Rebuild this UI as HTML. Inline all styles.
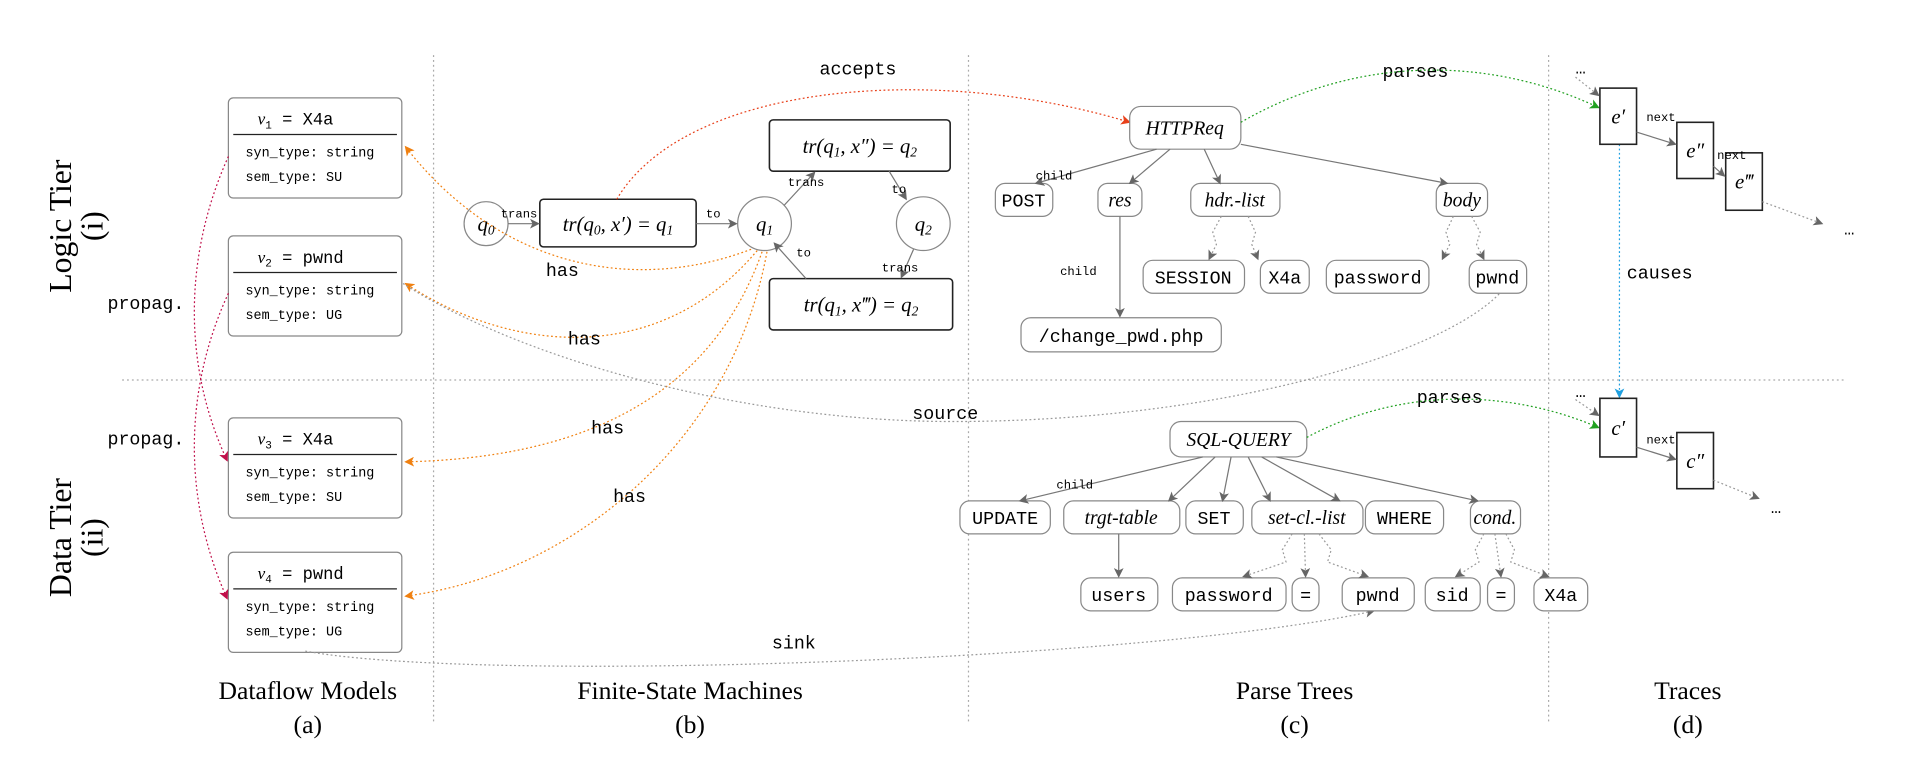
<!DOCTYPE html>
<html><head><meta charset="utf-8"><style>
html,body{margin:0;padding:0;background:#fff;}
svg{display:block}
.m{font-family:"Liberation Mono",monospace;}
.s{font-family:"Liberation Serif",serif;}
.i{font-family:"Liberation Serif",serif;font-style:italic;}
</style></head><body>
<svg width="1915" height="771" viewBox="0 0 1568 631" xmlns="http://www.w3.org/2000/svg">
<defs>
<marker id="ag" markerWidth="8" markerHeight="8" refX="7" refY="4" orient="auto" markerUnits="userSpaceOnUse"><path d="M0,0 L8,4 L0,8 L2,4z" fill="#666"/></marker>
<marker id="ao" markerWidth="8" markerHeight="8" refX="7" refY="4" orient="auto" markerUnits="userSpaceOnUse"><path d="M0,0 L8,4 L0,8 L2,4z" fill="#f08010"/></marker>
<marker id="ar" markerWidth="8" markerHeight="8" refX="7" refY="4" orient="auto" markerUnits="userSpaceOnUse"><path d="M0,0 L8,4 L0,8 L2,4z" fill="#e8401a"/></marker>
<marker id="ac" markerWidth="8" markerHeight="8" refX="7" refY="4" orient="auto" markerUnits="userSpaceOnUse"><path d="M0,0 L8,4 L0,8 L2,4z" fill="#c0104a"/></marker>
<marker id="agr" markerWidth="8" markerHeight="8" refX="7" refY="4" orient="auto" markerUnits="userSpaceOnUse"><path d="M0,0 L8,4 L0,8 L2,4z" fill="#20a020"/></marker>
<marker id="ab" markerWidth="8" markerHeight="8" refX="7" refY="4" orient="auto" markerUnits="userSpaceOnUse"><path d="M0,0 L8,4 L0,8 L2,4z" fill="#20a0e0"/></marker>
</defs>
<g stroke="#aaa" stroke-width="1" stroke-dasharray="1.5,2.5" fill="none">
<line x1="355" y1="45" x2="355" y2="592"/>
<line x1="793" y1="45" x2="793" y2="592"/>
<line x1="1268" y1="45" x2="1268" y2="592"/>
<line x1="100" y1="311" x2="1510" y2="311"/>
</g>
<g class="s" font-size="26" text-anchor="middle">
<text transform="translate(58,185) rotate(-90)">Logic Tier</text>
<text transform="translate(84,185) rotate(-90)">(i)</text>
<text transform="translate(58,440) rotate(-90)">Data Tier</text>
<text transform="translate(84,440) rotate(-90)">(ii)</text>
</g>
<g class="s" font-size="21" text-anchor="middle">
<text x="252" y="572">Dataflow Models</text><text x="252" y="600">(a)</text>
<text x="565" y="572">Finite-State Machines</text><text x="565" y="600">(b)</text>
<text x="1060" y="572">Parse Trees</text><text x="1060" y="600">(c)</text>
<text x="1382" y="572">Traces</text><text x="1382" y="600">(d)</text>
</g>
<g font-size="11" class="m">
<g transform="translate(187,80)"><rect width="142" height="82" rx="4" fill="#fff" stroke="#888"/><text x="24" y="22" font-size="14"><tspan class="i">v</tspan><tspan font-size="9" dy="3">1</tspan><tspan dy="-3"> = X4a</tspan></text><line x1="4" x2="138" y1="30" y2="30" stroke="#222"/><text x="14" y="48">syn_type: string</text><text x="14" y="68">sem_type: SU</text></g>
<g transform="translate(187,193)"><rect width="142" height="82" rx="4" fill="#fff" stroke="#888"/><text x="24" y="22" font-size="14"><tspan class="i">v</tspan><tspan font-size="9" dy="3">2</tspan><tspan dy="-3"> = pwnd</tspan></text><line x1="4" x2="138" y1="30" y2="30" stroke="#222"/><text x="14" y="48">syn_type: string</text><text x="14" y="68">sem_type: UG</text></g>
<g transform="translate(187,342)"><rect width="142" height="82" rx="4" fill="#fff" stroke="#888"/><text x="24" y="22" font-size="14"><tspan class="i">v</tspan><tspan font-size="9" dy="3">3</tspan><tspan dy="-3"> = X4a</tspan></text><line x1="4" x2="138" y1="30" y2="30" stroke="#222"/><text x="14" y="48">syn_type: string</text><text x="14" y="68">sem_type: SU</text></g>
<g transform="translate(187,452)"><rect width="142" height="82" rx="4" fill="#fff" stroke="#888"/><text x="24" y="22" font-size="14"><tspan class="i">v</tspan><tspan font-size="9" dy="3">4</tspan><tspan dy="-3"> = pwnd</tspan></text><line x1="4" x2="138" y1="30" y2="30" stroke="#222"/><text x="14" y="48">syn_type: string</text><text x="14" y="68">sem_type: UG</text></g>
</g>
<g class="m" font-size="15"><text x="88" y="253">propag.</text><text x="88" y="364">propag.</text></g>
<g stroke="#c0104a" stroke-dasharray="1.5,2" fill="none">
<path d="M187,128 C150,210 150,300 186,377" marker-end="url(#ac)"/>
<path d="M187,240 C150,320 150,410 186,490" marker-end="url(#ac)"/>
</g>
<g stroke="#888" fill="#fff"><circle cx="398" cy="183" r="18"/><circle cx="626" cy="183" r="22"/><circle cx="756" cy="183" r="22"/></g>
<g stroke="#222" fill="#fff" stroke-width="1.3">
<rect x="442" y="163" width="128" height="39" rx="3"/>
<rect x="630" y="98" width="148" height="42" rx="3"/>
<rect x="630" y="228" width="150" height="42" rx="3"/>
</g>
<g class="i" font-size="17" text-anchor="middle">
<text x="398" y="189">q<tspan font-size="11" dy="3">0</tspan></text>
<text x="626" y="189">q<tspan font-size="11" dy="3">1</tspan></text>
<text x="756" y="189">q<tspan font-size="11" dy="3">2</tspan></text>
<text x="506" y="189">tr(q<tspan font-size="11" dy="3">0</tspan><tspan dy="-3">, x′) = q</tspan><tspan font-size="11" dy="3">1</tspan></text>
<text x="704" y="125">tr(q<tspan font-size="11" dy="3">1</tspan><tspan dy="-3">, x″) = q</tspan><tspan font-size="11" dy="3">2</tspan></text>
<text x="705" y="255">tr(q<tspan font-size="11" dy="3">1</tspan><tspan dy="-3">, x‴) = q</tspan><tspan font-size="11" dy="3">2</tspan></text>
</g>
<g stroke="#777" fill="none" marker-end="url(#ag)">
<line x1="416" y1="183" x2="441" y2="183"/>
<line x1="570" y1="183" x2="603" y2="183"/>
<line x1="642" y1="168" x2="667" y2="141"/>
<line x1="728" y1="140" x2="742" y2="163"/>
<line x1="748" y1="204" x2="738" y2="227"/>
<line x1="660" y1="228" x2="634" y2="199"/>
</g>
<g class="m" font-size="10"><text x="410" y="178">trans</text><text x="578" y="178">to</text><text x="645" y="152">trans</text><text x="730" y="158">to</text><text x="722" y="222">trans</text><text x="652" y="210">to</text></g>
<g stroke="#f08010" stroke-dasharray="1.5,2" fill="none">
<path d="M615,204 C520,240 410,220 332,120" marker-end="url(#ao)"/>
<path d="M620,205 C540,300 420,290 332,232" marker-end="url(#ao)"/>
<path d="M624,206 C580,330 470,375 332,378" marker-end="url(#ao)"/>
<path d="M628,206 C600,360 470,470 332,488" marker-end="url(#ao)"/>
</g>
<g class="m" font-size="15"><text x="447" y="226">has</text><text x="465" y="282">has</text><text x="484" y="355">has</text><text x="502" y="411">has</text>
<text x="671" y="61">accepts</text><text x="1132" y="63">parses</text><text x="1160" y="330">parses</text><text x="747" y="343">source</text><text x="632" y="531">sink</text><text x="1332" y="228">causes</text></g>
<path d="M505,163 C560,70 760,50 925,100" stroke="#e8401a" stroke-dasharray="1.5,2" fill="none" marker-end="url(#ar)"/>
<g stroke="#999" stroke-dasharray="1.5,2" fill="none">
<path d="M330,232 C420,290 600,345 780,345 C1000,345 1180,290 1228,240"/>
<path d="M250,533 C400,560 950,540 1125,500" marker-end="url(#ag)"/>
</g>
<g stroke="#888" fill="#fff">
<rect x="925" y="87" width="91" height="35" rx="9"/>
<rect x="815" y="150" width="47" height="27" rx="8"/>
<rect x="899" y="150" width="36" height="27" rx="8"/>
<rect x="975" y="150" width="73" height="27" rx="8"/>
<rect x="1176" y="150" width="42" height="27" rx="8"/>
<rect x="936" y="213" width="83" height="27" rx="8"/>
<rect x="1032" y="213" width="40" height="27" rx="8"/>
<rect x="1086" y="213" width="84" height="27" rx="8"/>
<rect x="1203" y="213" width="47" height="27" rx="8"/>
<rect x="836" y="260" width="164" height="28" rx="8"/>
<rect x="958" y="345" width="112" height="29" rx="9"/>
<rect x="786" y="410" width="74" height="27" rx="8"/>
<rect x="871" y="410" width="95" height="27" rx="8"/>
<rect x="971" y="410" width="47" height="27" rx="8"/>
<rect x="1025" y="410" width="91" height="27" rx="8"/>
<rect x="1118" y="410" width="64" height="27" rx="8"/>
<rect x="1204" y="410" width="41" height="27" rx="8"/>
<rect x="885" y="473" width="63" height="27" rx="8"/>
<rect x="960" y="473" width="93" height="27" rx="8"/>
<rect x="1058" y="473" width="22" height="27" rx="8"/>
<rect x="1099" y="473" width="59" height="27" rx="8"/>
<rect x="1167" y="473" width="45" height="27" rx="8"/>
<rect x="1218" y="473" width="22" height="27" rx="8"/>
<rect x="1256" y="473" width="44" height="27" rx="8"/>
</g>
<g class="i" font-size="16" text-anchor="middle">
<text x="970" y="110">HTTPReq</text><text x="917" y="169">res</text><text x="1011" y="169">hdr.-list</text><text x="1197" y="169">body</text>
<text x="1014" y="365">SQL-QUERY</text><text x="918" y="429">trgt-table</text><text x="1070" y="429">set-cl.-list</text><text x="1224" y="429">cond.</text>
</g>
<g class="m" font-size="15" text-anchor="middle">
<text x="838" y="169">POST</text><text x="977" y="232">SESSION</text><text x="1052" y="232">X4a</text><text x="1128" y="232">password</text><text x="1226" y="232">pwnd</text><text x="918" y="280">/change_pwd.php</text>
<text x="823" y="429">UPDATE</text><text x="994" y="429">SET</text><text x="1150" y="429">WHERE</text>
<text x="916" y="492">users</text><text x="1006" y="492">password</text><text x="1069" y="492">=</text><text x="1128" y="492">pwnd</text><text x="1189" y="492">sid</text><text x="1229" y="492">=</text><text x="1278" y="492">X4a</text>
</g>
<g stroke="#777" fill="none" marker-end="url(#ag)">
<line x1="947" y1="122" x2="848" y2="150"/>
<line x1="958" y1="122" x2="925" y2="150"/>
<line x1="986" y1="122" x2="999" y2="150"/>
<line x1="1016" y1="118" x2="1185" y2="150"/>
<line x1="917" y1="177" x2="917" y2="259"/>
<line x1="985" y1="374" x2="835" y2="410"/>
<line x1="995" y1="374" x2="957" y2="410"/>
<line x1="1008" y1="374" x2="1001" y2="410"/>
<line x1="1022" y1="374" x2="1040" y2="410"/>
<line x1="1033" y1="374" x2="1097" y2="410"/>
<line x1="1045" y1="374" x2="1210" y2="410"/>
<line x1="916" y1="437" x2="916" y2="472"/>
</g>
<g stroke="#999" stroke-dasharray="1.5,2" fill="none" marker-end="url(#ag)">
<path d="M1000,177 L993,190 L996,200 L990,212"/>
<path d="M1022,177 L1028,190 L1025,200 L1030,212"/>
<path d="M1190,177 L1184,190 L1187,200 L1181,212"/>
<path d="M1205,177 L1212,190 L1209,200 L1215,212"/>
<path d="M1058,437 L1050,450 L1053,460 L1018,472"/>
<path d="M1068,437 L1069,472"/>
<path d="M1080,437 L1090,450 L1087,460 L1120,472"/>
<path d="M1215,437 L1208,450 L1211,460 L1192,472"/>
<path d="M1224,437 L1229,472"/>
<path d="M1233,437 L1240,450 L1237,460 L1268,472"/>
</g>
<g class="m" font-size="10"><text x="848" y="147">child</text><text x="868" y="225">child</text><text x="865" y="400">child</text></g>
<g stroke="#20a020" stroke-dasharray="1.5,2" fill="none">
<path d="M1016,100 C1120,40 1230,50 1309,88" marker-end="url(#agr)"/>
<path d="M1070,358 C1150,315 1240,320 1309,350" marker-end="url(#agr)"/>
</g>
<path d="M1326,118 L1326,325" stroke="#20a0e0" stroke-dasharray="1.5,2" fill="none" marker-end="url(#ab)"/>
<g stroke="#222" fill="#fff" stroke-width="1.3">
<rect x="1310" y="72" width="30" height="46"/><rect x="1373" y="100" width="30" height="46"/><rect x="1413" y="125" width="30" height="47"/>
<rect x="1310" y="326" width="30" height="48"/><rect x="1373" y="354" width="30" height="46"/>
</g>
<g class="i" font-size="17" text-anchor="middle"><text x="1325" y="101">e′</text><text x="1388" y="129">e″</text><text x="1428" y="154">e‴</text><text x="1325" y="356">c′</text><text x="1388" y="383">c″</text></g>
<g stroke="#777" fill="none" marker-end="url(#ag)"><line x1="1340" y1="108" x2="1372" y2="118"/><line x1="1403" y1="136" x2="1412" y2="144"/><line x1="1340" y1="366" x2="1372" y2="376"/></g>
<g class="m" font-size="10"><text x="1348" y="99">next</text><text x="1406" y="130">next</text><text x="1348" y="363">next</text></g>
<g stroke="#999" stroke-dasharray="1.5,2" fill="none" marker-end="url(#ag)"><line x1="1290" y1="63" x2="1309" y2="78"/><line x1="1443" y1="165" x2="1492" y2="183"/><line x1="1290" y1="327" x2="1309" y2="340"/><line x1="1403" y1="393" x2="1440" y2="408"/></g>
<g class="m" font-size="14"><text x="1290" y="60">…</text><text x="1510" y="192">…</text><text x="1290" y="325">…</text><text x="1450" y="420">…</text></g>
</svg>
</body></html>
